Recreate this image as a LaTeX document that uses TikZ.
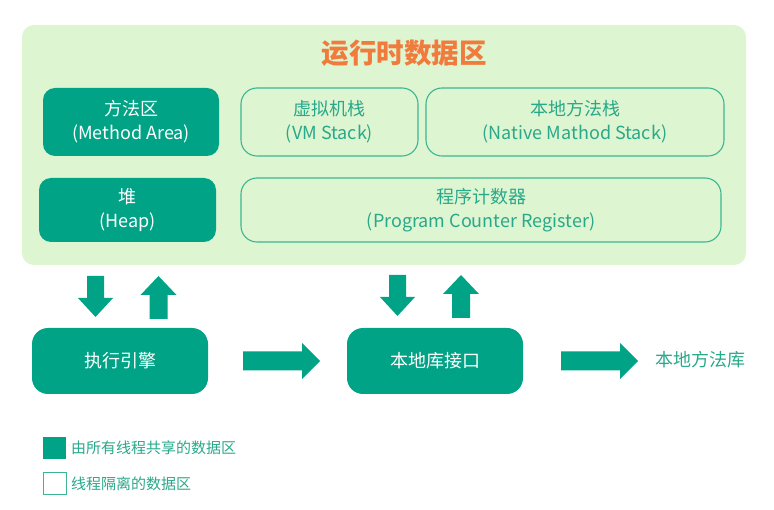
\documentclass[tikz,border=0pt]{standalone}
\usepackage{fontspec}
\setmainfont{Noto Sans CJK SC}
\definecolor{jvmteal}{HTML}{00A385}
\definecolor{jvmline}{HTML}{3DB593}
\definecolor{jvmtext}{HTML}{2AA88A}
\definecolor{jvmpanel}{HTML}{DDF5D0}
\definecolor{jvmorange}{HTML}{F07B3C}
\begin{document}
\begin{tikzpicture}[x=1pt,y=-1pt,
  boxfont/.style={font=\fontsize{18}{24}\selectfont, align=center},
  shared/.style={boxfont, fill=jvmteal, text=white, rounded corners=12pt, inner sep=0pt},
  private/.style={boxfont, draw=jvmline, line width=1.1pt, text=jvmtext, rounded corners=16pt, inner sep=0pt},
  engine/.style={boxfont, fill=jvmteal, text=white, rounded corners=16pt, inner sep=0pt},
  legendbox/.style={minimum width=23pt, minimum height=22pt, inner sep=0pt},
  legendtext/.style={font=\fontsize{15}{18}\selectfont, text=jvmtext, anchor=west, inner sep=0pt},
  darrow/.pic={\fill[jvmteal] (-8.5,0) -- (8.5,0) -- (8.5,22) -- (17.5,22) -- (0,41) -- (-17.5,22) -- (-8.5,22) -- cycle;},
  uarrow/.pic={\fill[jvmteal] (0,0) -- (18,19) -- (9,19) -- (9,43) -- (-9,43) -- (-9,19) -- (-18,19) -- cycle;},
  rarrow/.pic={\fill[jvmteal] (0,-9.5) -- (59,-9.5) -- (59,-18) -- (77,0) -- (59,18) -- (59,9.5) -- (0,9.5) -- cycle;}
]
\useasboundingbox (0,0) rectangle (774,510);

% runtime data area panel
\node[fill=jvmpanel, rounded corners=12pt, minimum width=724pt, minimum height=240pt, inner sep=0pt] (runtime) at (384,145) {};
\node[font=\fontsize{27.5}{30}\selectfont\bfseries, text=jvmorange] (title) at (404,53) {运行时数据区};

% memory areas
\node[shared, minimum width=176pt, minimum height=68pt] (method) at (131,122) {方法区\\(Method Area)};
\node[shared, minimum width=177pt, minimum height=64pt] (heap) at (127.5,210) {堆\\(Heap)};
\node[private, minimum width=177pt, minimum height=68pt] (vmstack) at (329.5,122) {虚拟机栈\\(VM Stack)};
\node[private, minimum width=298pt, minimum height=68pt] (nstack) at (575,122) {本地方法栈\\(Native Mathod Stack)};
\node[private, minimum width=480pt, minimum height=64pt] (pc) at (481,210) {程序计数器\\(Program Counter Register)};

% execution engine and native interface
\node[engine, minimum width=176pt, minimum height=66pt] (exec) at (120,361) {执行引擎};
\node[engine, minimum width=176pt, minimum height=66pt] (jni) at (435,361) {本地库接口};
\node[boxfont, text=jvmtext] (lib) at (700,360) {本地方法库};

% data flow arrows
\pic at (95.5,276) {darrow};
\pic at (158.5,276) {uarrow};
\pic at (397.5,275) {darrow};
\pic at (461,275) {uarrow};
\pic at (243,361) {rarrow};
\pic at (561,361) {rarrow};

% legend
\node[legendbox, fill=jvmteal] (keyshared) at (54.5,448) {};
\node[legendtext] (keysharedtext) at (71,448) {由所有线程共享的数据区};
\node[legendbox, draw=jvmline, line width=1pt, fill=white] (keyprivate) at (54.5,483.5) {};
\node[legendtext] (keyprivatetext) at (71,483.5) {线程隔离的数据区};
\end{tikzpicture}
\end{document}
